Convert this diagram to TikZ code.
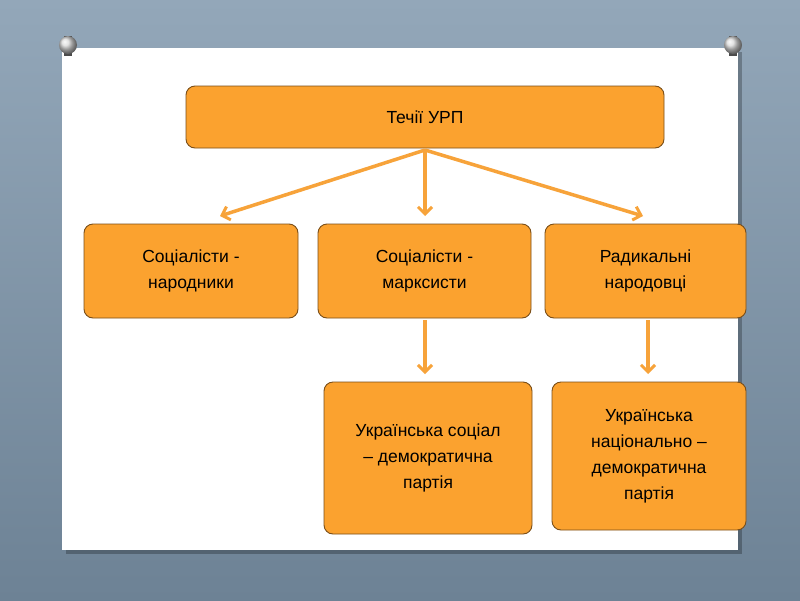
\documentclass[tikz,border=0pt]{standalone}
\usepackage{fontspec}
\setmainfont{Liberation Sans}
\usetikzlibrary{arrows.meta}
\definecolor{bgA}{HTML}{93A7B9}
\definecolor{bgB}{HTML}{6D8295}
\definecolor{org}{HTML}{FBA22F}
\definecolor{orgd}{HTML}{7A4E18}
\definecolor{arr}{HTML}{F7A33A}
\tikzset{
 box/.style={draw=orgd,fill=org,rounded corners=9pt,line width=0.9pt,align=center,font=\fontsize{17.5}{26}\selectfont,inner sep=0pt},
 conn/.style={draw=arr,line width=3.5pt,-{Straight Barb[length=7pt,width=14pt,line width=3pt]}}
}
\begin{document}
\begin{tikzpicture}[x=1pt,y=-1pt]
\useasboundingbox (0,0) rectangle (800,600);
\shade[top color=bgA,bottom color=bgB] (0,0) rectangle (800,600);
\fill[black,opacity=0.25] (66,52) rectangle (742,554);
\fill[white] (62,48) rectangle (738,550);
\foreach \px in {68,733}{
 \fill[gray!60!black] (\px-4,36) rectangle (\px+4,56);
 \shade[ball color=gray!30] (\px,45) circle (9);
}
\node[box,minimum width=478pt,minimum height=62pt] (top) at (425,117) {Течії УРП};
\node[box,minimum width=214pt,minimum height=94pt] (l) at (191,271) {Соціалісти -\\народники};
\node[box,minimum width=213pt,minimum height=94pt] (m) at (424.5,271) {Соціалісти -\\марксисти};
\node[box,minimum width=201pt,minimum height=94pt] (r) at (645.5,271) {Радикальні\\народовці};
\node[box,minimum width=208pt,minimum height=152pt] (bm) at (428,458) {Українська соціал\\– демократична\\партія};
\node[box,minimum width=194pt,minimum height=148pt] (br) at (649,456) {Українська\\національно –\\демократична\\партія};
\coordinate (s) at (425,150);
\draw[conn] (s) -- (220,216);
\draw[conn] (s) -- (425,216);
\draw[conn] (s) -- (643,216);
\draw[conn] (m.south -| 425,0) ++(0,2) -- (425,374);
\draw[conn] (648,320) -- (648,374);
\end{tikzpicture}
\end{document}
